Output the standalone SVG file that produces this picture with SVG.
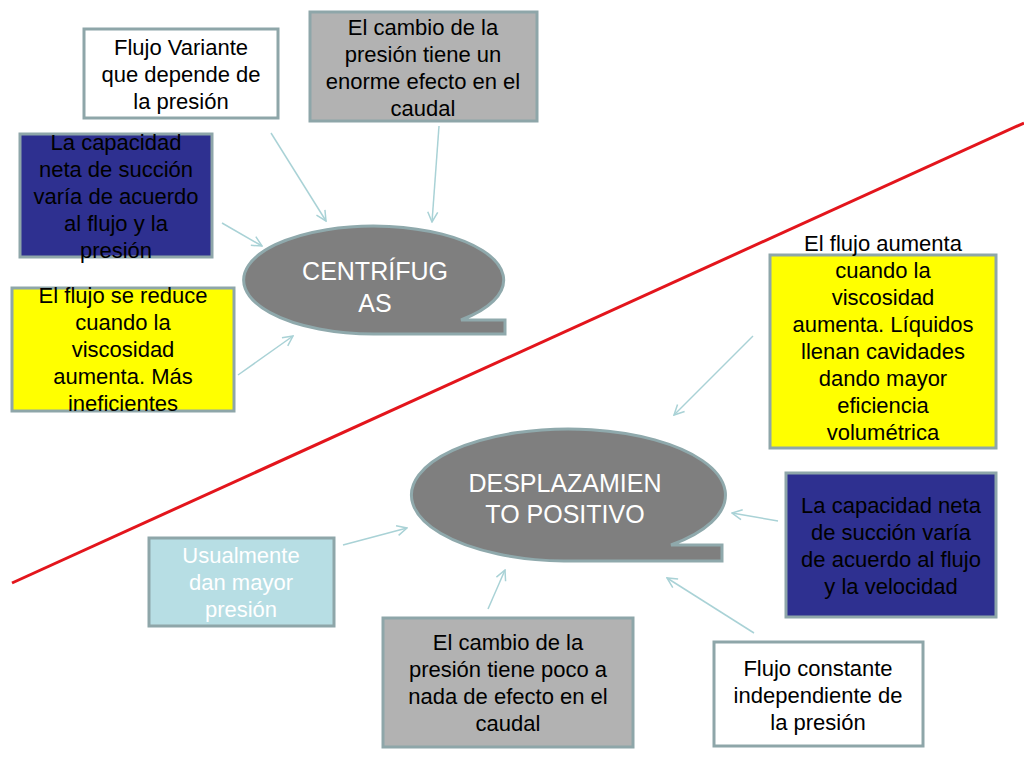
<svg xmlns="http://www.w3.org/2000/svg" width="1024" height="768" viewBox="0 0 1024 768">
<defs>
<marker id="ah" viewBox="0 0 12 12" refX="11" refY="6" markerWidth="12" markerHeight="12" markerUnits="userSpaceOnUse" orient="auto">
<path d="M1,1 L11,6 L1,11" fill="none" stroke="#a9d2d6" stroke-width="1.5"/>
</marker>
</defs>
<style>
.box{stroke:#8ea6a9;stroke-width:3}
.t{font-family:"Liberation Sans",Arial,sans-serif;font-size:22px;text-anchor:middle;fill:#000}
.w{fill:#fff}
.big{font-family:"Liberation Sans",Arial,sans-serif;font-size:25px;text-anchor:middle;fill:#fff}
.bubble{fill:#7f7f7f;stroke:#8fa9ac;stroke-width:3}
.c{stroke:#a9d2d6;stroke-width:1.5;fill:none;marker-end:url(#ah)}
</style>
<rect width="1024" height="768" fill="#fff"/>
<line x1="12" y1="583" x2="1024" y2="123" stroke="#e3151c" stroke-width="3"/>
<g id="connectors">
<line class="c" x1="271" y1="133" x2="326" y2="221"/>
<line class="c" x1="439" y1="126" x2="432" y2="222"/>
<line class="c" x1="222" y1="223" x2="262" y2="246"/>
<line class="c" x1="238" y1="375" x2="293" y2="336"/>
<line class="c" x1="753" y1="336" x2="674" y2="415"/>
<line class="c" x1="778" y1="521" x2="732" y2="513"/>
<line class="c" x1="754" y1="633" x2="667" y2="578"/>
<line class="c" x1="488" y1="609" x2="505" y2="570"/>
<line class="c" x1="343" y1="545" x2="407" y2="528"/>
</g>
<g id="centrifugas">
<path class="bubble" d="M461,320 L505,320 L505,334 L374,334 A130 54 0 1 1 461,320 Z"/>
<text class="big" x="375" y="280">CENTRÍFUG</text>
<text class="big" x="375" y="312">AS</text>
</g>
<g id="desplazamiento">
<path class="bubble" d="M671,545 L722,545 L722,561 L564,561 A157 66 0 1 1 671,545 Z"/>
<text class="big" x="565" y="492">DESPLAZAMIEN</text>
<text class="big" x="565" y="523">TO POSITIVO</text>
</g>
<g id="flujo-variante">
<rect class="box" x="84" y="29" width="194" height="89" fill="#fff"/>
<text class="t" x="181" y="55">Flujo Variante</text>
<text class="t" x="181" y="82">que depende de</text>
<text class="t" x="181" y="109">la presión</text>
</g>
<g id="cambio-enorme">
<rect class="box" x="310" y="12" width="227" height="109" fill="#b2b2b2"/>
<text class="t" x="423" y="35">El cambio de la</text>
<text class="t" x="423" y="62">presión tiene un</text>
<text class="t" x="423" y="89">enorme efecto en el</text>
<text class="t" x="423" y="116">caudal</text>
</g>
<g id="capacidad-presion">
<rect class="box" x="20" y="134" width="192" height="123" fill="#2e3090"/>
<text class="t" x="116" y="150">La capacidad</text>
<text class="t" x="116" y="177">neta de succión</text>
<text class="t" x="116" y="204">varía de acuerdo</text>
<text class="t" x="116" y="231">al flujo y la</text>
<text class="t" x="116" y="258">presión</text>
</g>
<g id="flujo-reduce">
<rect class="box" x="12" y="288" width="222" height="123" fill="#ffff00"/>
<text class="t" x="123" y="303">El flujo se reduce</text>
<text class="t" x="123" y="330">cuando la</text>
<text class="t" x="123" y="357">viscosidad</text>
<text class="t" x="123" y="384">aumenta. Más</text>
<text class="t" x="123" y="411">ineficientes</text>
</g>
<g id="flujo-aumenta">
<rect class="box" x="770" y="255" width="226" height="193" fill="#ffff00"/>
<text class="t" x="883" y="251">El flujo aumenta</text>
<text class="t" x="883" y="278">cuando la</text>
<text class="t" x="883" y="305">viscosidad</text>
<text class="t" x="883" y="332">aumenta. Líquidos</text>
<text class="t" x="883" y="359">llenan cavidades</text>
<text class="t" x="883" y="386">dando mayor</text>
<text class="t" x="883" y="413">eficiencia</text>
<text class="t" x="883" y="440">volumétrica</text>
</g>
<g id="capacidad-velocidad">
<rect class="box" x="786" y="473" width="210" height="144" fill="#2e3090"/>
<text class="t" x="891" y="513">La capacidad neta</text>
<text class="t" x="891" y="540">de succión varía</text>
<text class="t" x="891" y="567">de acuerdo al flujo</text>
<text class="t" x="891" y="594">y la velocidad</text>
</g>
<g id="usualmente">
<rect class="box" x="149" y="538" width="185" height="88" fill="#b7dee4"/>
<text class="t w" x="241" y="563">Usualmente</text>
<text class="t w" x="241" y="590">dan mayor</text>
<text class="t w" x="241" y="617">presión</text>
</g>
<g id="cambio-poco">
<rect class="box" x="383" y="618" width="250" height="129" fill="#b2b2b2"/>
<text class="t" x="508" y="650">El cambio de la</text>
<text class="t" x="508" y="677">presión tiene poco a</text>
<text class="t" x="508" y="704">nada de efecto en el</text>
<text class="t" x="508" y="731">caudal</text>
</g>
<g id="flujo-constante">
<rect class="box" x="714" y="642" width="209" height="104" fill="#fff"/>
<text class="t" x="818" y="676">Flujo constante</text>
<text class="t" x="818" y="703">independiente de</text>
<text class="t" x="818" y="730">la presión</text>
</g>
</svg>
